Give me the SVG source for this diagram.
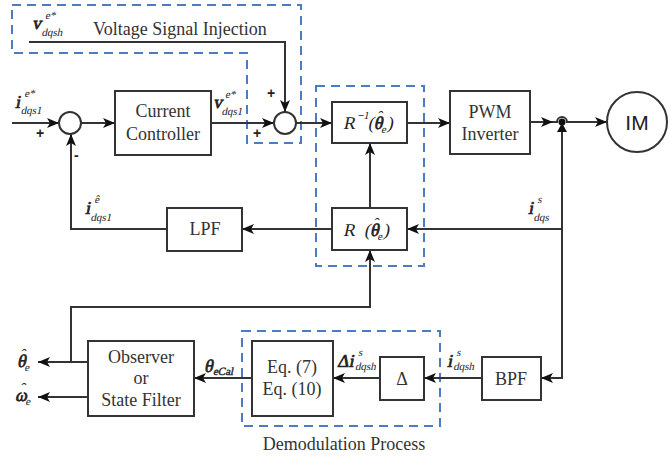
<svg xmlns="http://www.w3.org/2000/svg" width="668" height="457" viewBox="0 0 668 457">
<defs>
<marker id="ah" viewBox="0 0 12 10" refX="12" refY="5" markerWidth="12" markerHeight="10" markerUnits="userSpaceOnUse" orient="auto"><path d="M0,0 L12,5 L0,10 L3,5 z" fill="#111"/></marker>
</defs>
<style>
.box{fill:#fff;stroke:#333;stroke-width:2}
.ln{fill:none;stroke:#333;stroke-width:2}
.dash{fill:none;stroke:#4a7cc4;stroke-width:2;stroke-dasharray:9,6}
.t{font-family:"Liberation Serif",serif;font-size:18px;fill:#333;text-anchor:middle}
.m{font-family:"Liberation Serif",serif;font-size:18px;fill:#222}
.b{stroke:#222;stroke-width:0.7}
.s{font-size:11px}
.h{font-size:16px}
.sg{font-family:"Liberation Sans",sans-serif;font-weight:bold;font-size:14px;fill:#222}
</style>
<rect width="668" height="457" fill="#fff"/>

<g id="groups">
<path class="dash" d="M12,5 H301 V143 H247 V53 H12 Z"/>
<rect class="dash" x="316" y="86" width="108" height="180"/>
<rect class="dash" x="242" y="331" width="198" height="95"/>
<text class="t" x="93" y="35" style="text-anchor:start">Voltage Signal Injection</text>
<text class="t" x="344" y="450">Demodulation Process</text>
</g>

<g id="connectors">
<path class="ln" d="M12,123 H59" marker-end="url(#ah)"/>
<path class="ln" d="M81,123 H115" marker-end="url(#ah)"/>
<path class="ln" d="M211,123 H274" marker-end="url(#ah)"/>
<path class="ln" d="M29,42 H285 V112" marker-end="url(#ah)"/>
<path class="ln" d="M296,123 H332" marker-end="url(#ah)"/>
<path class="ln" d="M407,123 H450" marker-end="url(#ah)"/>
<path class="ln" d="M530,122 H553" marker-end="url(#ah)"/>
<path class="ln" d="M553,122 H557 A5,5 0 0 1 567,122 H607" marker-end="url(#ah)"/>
<path class="ln" d="M562,131 V378 H541" marker-end="url(#ah)"/>
<path class="ln" d="M562,229 H407" marker-end="url(#ah)"/>
<circle cx="562" cy="122" r="3.5" fill="#111"/>
<path d="M562,123 L567,132 L557,132 Z" fill="#111"/>
<path class="ln" d="M370,208 V143" marker-end="url(#ah)"/>
<path class="ln" d="M332,229 H242" marker-end="url(#ah)"/>
<path class="ln" d="M167,229 H71 V134" marker-end="url(#ah)"/>
<path class="ln" d="M71,362 V307 H370 V250" marker-end="url(#ah)"/>
<path class="ln" d="M88,362 H38" marker-end="url(#ah)"/>
<path class="ln" d="M88,397 H38" marker-end="url(#ah)"/>
<path class="ln" d="M252,378 H194" marker-end="url(#ah)"/>
<path class="ln" d="M380,378 H333" marker-end="url(#ah)"/>
<path class="ln" d="M482,378 H424" marker-end="url(#ah)"/>
</g>

<g id="sum1">
<circle class="box" cx="70" cy="123" r="11"/>
<text class="sg" x="36" y="138">+</text>
<text class="sg" x="74" y="160">-</text>
</g>
<g id="sum2">
<circle class="box" cx="285" cy="123" r="11"/>
<text class="sg" x="253" y="138">+</text>
<text class="sg" x="267" y="98">+</text>
</g>

<g id="current-controller">
<rect class="box" x="115" y="91" width="96" height="64"/>
<text class="t" x="163" y="117">Current</text>
<text class="t" x="163" y="140">Controller</text>
</g>

<g id="rinv">
<rect class="box" x="332" y="102" width="75" height="41"/>
<text class="m" transform="translate(343,129) skewX(-12)">R<tspan class="s" dy="-10">−1</tspan><tspan dx="1" dy="10">(</tspan><tspan class="b">θ</tspan><tspan class="h" dx="-7.5" dy="-7">ˆ</tspan><tspan class="s" dx="1.7" dy="11">e</tspan><tspan dy="-4">)</tspan></text>
</g>

<g id="r">
<rect class="box" x="332" y="208" width="75" height="42"/>
<text class="m" transform="translate(343,236) skewX(-12)">R<tspan dx="9">(</tspan><tspan class="b">θ</tspan><tspan class="h" dx="-7.5" dy="-7">ˆ</tspan><tspan class="s" dx="1.7" dy="11">e</tspan><tspan dy="-4">)</tspan></text>
</g>

<g id="pwm">
<rect class="box" x="450" y="91" width="80" height="63"/>
<text class="t" x="490" y="118">PWM</text>
<text class="t" x="490" y="140">Inverter</text>
</g>

<g id="im">
<circle class="box" cx="637" cy="122" r="30"/>
<text x="637" y="130" style="font-family:'Liberation Sans',sans-serif;font-size:21px;fill:#222;text-anchor:middle">IM</text>
</g>

<g id="lpf">
<rect class="box" x="167" y="208" width="75" height="43"/>
<text class="t" x="205" y="235">LPF</text>
</g>

<g id="observer">
<rect class="box" x="88" y="341" width="106" height="75"/>
<text class="t" x="141" y="363">Observer</text>
<text class="t" x="141" y="384">or</text>
<text class="t" x="141" y="406">State Filter</text>
</g>

<g id="eq">
<rect class="box" x="252" y="341" width="81" height="75"/>
<text class="t" x="292" y="373">Eq. (7)</text>
<text class="t" x="292" y="395">Eq. (10)</text>
</g>

<g id="delta">
<rect class="box" x="380" y="357" width="44" height="43"/>
<text class="t" x="402" y="385">Δ</text>
</g>

<g id="bpf">
<rect class="box" x="482" y="357" width="59" height="43"/>
<text class="t" x="511" y="385">BPF</text>
</g>

<g id="labels">
<text class="m" transform="translate(32,29) skewX(-12)"><tspan class="b">v</tspan><tspan class="s" dx="2" dy="-10">e*</tspan><tspan class="s" dx="-10.4" dy="17">dqsh</tspan></text>

<text class="m" transform="translate(15,108) skewX(-12)"><tspan class="b">i</tspan><tspan class="s" dx="2" dy="-11">e*</tspan><tspan class="s" dx="-10.4" dy="17">dqs1</tspan></text>

<text class="m" transform="translate(213,108) skewX(-12)"><tspan class="b">v</tspan><tspan class="s" dx="1" dy="-10">e*</tspan><tspan class="s" dx="-10.4" dy="17">dqs1</tspan></text>

<text class="m" transform="translate(85,214) skewX(-12)"><tspan class="b">i</tspan><tspan class="s" dx="2" dy="-11">ê</tspan><tspan class="s" dx="-4.9" dy="18">dqs1</tspan></text>

<text class="m" transform="translate(528,214) skewX(-12)"><tspan class="b">i</tspan><tspan class="s" dx="2" dy="-11">s</tspan><tspan class="s" dx="-4.3" dy="18">dqs</tspan></text>

<text class="m" transform="translate(337,367) skewX(-12)"><tspan class="b">Δi</tspan><tspan class="s" dx="2" dy="-11">s</tspan><tspan class="s" dx="-4.3" dy="14">dqsh</tspan></text>

<text class="m" transform="translate(447,367) skewX(-12)"><tspan class="b">i</tspan><tspan class="s" dx="2" dy="-11">s</tspan><tspan class="s" dx="-4.3" dy="14">dqsh</tspan></text>

<text class="m" transform="translate(204,372) skewX(-12)"><tspan class="b">θ</tspan><tspan class="s b" style="stroke-width:0.4" dx="1" dy="3">eCal</tspan></text>

<text class="m" transform="translate(17,367) skewX(-12)"><tspan class="b">θ</tspan><tspan class="h" dx="-7.5" dy="-7">ˆ</tspan><tspan class="s" dx="1.7" dy="11">e</tspan></text>

<text class="m" transform="translate(15,401) skewX(-12)"><tspan class="b">ω</tspan><tspan class="h" dx="-9" dy="-7">ˆ</tspan><tspan class="s" dx="3" dy="11">e</tspan></text>
</g>
</svg>
